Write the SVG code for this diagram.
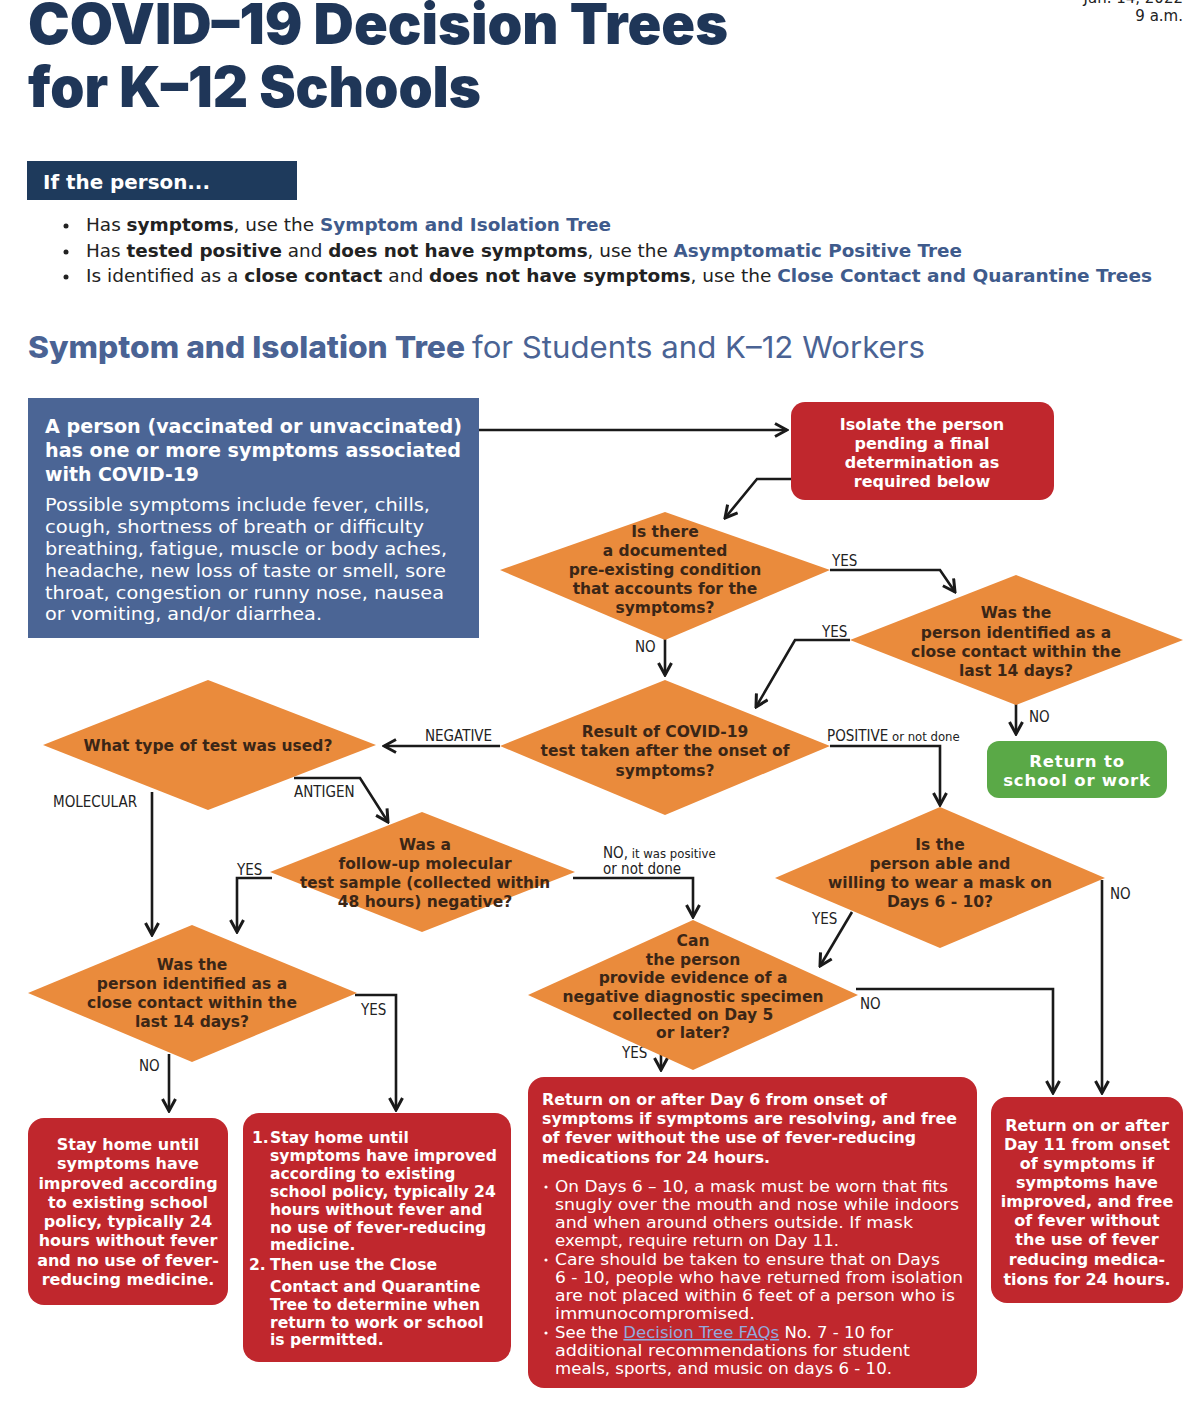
<svg xmlns="http://www.w3.org/2000/svg" width="1200" height="1403" viewBox="0 0 1200 1403">
<defs>
<style>
.title{font-family:Inter,"Open Sans","Liberation Sans",sans-serif;font-weight:900;fill:#1f3658;font-size:56px}
.date{font-family:"DejaVu Sans","Liberation Sans",sans-serif;font-size:15px;fill:#222}
.hdr{font-family:"DejaVu Sans","Liberation Sans",sans-serif;font-weight:700;font-size:19px;fill:#fff}
.bul{font-family:"DejaVu Sans","Liberation Sans",sans-serif;font-size:17px;fill:#222}
.b{font-weight:700}
.lk{font-weight:700;fill:#3f5b8c}
.sub{font-family:Inter,"Open Sans","Liberation Sans",sans-serif;font-size:30px;fill:#4a6394}
.wb{font-family:"DejaVu Sans","Liberation Sans",sans-serif;font-weight:700;fill:#fff}
.wr{font-family:"DejaVu Sans","Liberation Sans",sans-serif;font-weight:400;fill:#fff}
.dt{font-family:"DejaVu Sans","Liberation Sans",sans-serif;font-weight:700;font-size:15.5px;fill:#3b2616;text-anchor:middle}
.lbl{font-family:"Liberation Sans Narrow","DejaVu Sans Condensed","Liberation Sans",sans-serif;font-size:15px;fill:#222}
.dia{fill:#ea8b3c}
.red{fill:#c0272d}
.con{fill:none;stroke:#1a1a1a;stroke-width:2.6;marker-end:url(#ah)}
</style>
<marker id="ah" viewBox="0 0 16 16" refX="14" refY="8" markerWidth="16" markerHeight="16" markerUnits="userSpaceOnUse" orient="auto">
<path d="M2,1.5 L14,8 L2,14.5" fill="none" stroke="#1a1a1a" stroke-width="3"/>
</marker>
</defs>
<rect width="1200" height="1403" fill="#fff"/>

<g id="header">
<text class="title" x="28" y="44" textLength="700" lengthAdjust="spacingAndGlyphs">COVID–19 Decision Trees</text>
<text class="title" x="28" y="107" textLength="453" lengthAdjust="spacingAndGlyphs">for K–12 Schools</text>
<text class="date" x="1183" y="3" text-anchor="end">Jan. 14, 2022</text>
<text class="date" x="1183" y="21" text-anchor="end">9 a.m.</text>
<rect x="27" y="161" width="270" height="39" fill="#1e3a5c"/>
<text class="hdr" x="43" y="189" textLength="167" lengthAdjust="spacingAndGlyphs">If the person...</text>
<circle cx="66" cy="226" r="2.5" fill="#222"/>
<circle cx="66" cy="252" r="2.5" fill="#222"/>
<circle cx="66" cy="277" r="2.5" fill="#222"/>
<text class="bul" x="86" y="231" textLength="525" lengthAdjust="spacingAndGlyphs">Has <tspan class="b">symptoms</tspan>, use the <tspan class="lk">Symptom and Isolation Tree</tspan></text>
<text class="bul" x="86" y="257" textLength="876" lengthAdjust="spacingAndGlyphs">Has <tspan class="b">tested positive</tspan> and <tspan class="b">does not have symptoms</tspan>, use the <tspan class="lk">Asymptomatic Positive Tree</tspan></text>
<text class="bul" x="86" y="282" textLength="1066" lengthAdjust="spacingAndGlyphs">Is identified as a <tspan class="b">close contact</tspan> and <tspan class="b">does not have symptoms</tspan>, use the <tspan class="lk">Close Contact and Quarantine Trees</tspan></text>
<text class="sub" x="28" y="358" font-weight="800" textLength="437" lengthAdjust="spacingAndGlyphs">Symptom and Isolation Tree</text>
<text class="sub" x="472" y="358" font-weight="400" textLength="453" lengthAdjust="spacingAndGlyphs">for Students and K–12 Workers</text>
</g>

<g id="connectors">
<path class="con" d="M479,430 H787"/>
<path class="con" d="M791,479 H757 L725,518"/>
<path class="con" d="M830,570 H940 L955,592"/>
<path class="con" d="M665,638 V675"/>
<path class="con" d="M850,640 H795 L756,707"/>
<path class="con" d="M1016,703 V734"/>
<path class="con" d="M500,746 H384"/>
<path class="con" d="M830,746 H940 V805"/>
<path class="con" d="M152,792 V935"/>
<path class="con" d="M294,778 H360 L388,822"/>
<path class="con" d="M272,878 H237 V932"/>
<path class="con" d="M573,878 H693 V917"/>
<path class="con" d="M355,995 H396 V1110"/>
<path class="con" d="M169,1054 V1111"/>
<path class="con" d="M852,912 L820,966"/>
<path class="con" d="M1102,880 V1093"/>
<path class="con" d="M856,989 H1053 V1093"/>
<path class="con" d="M661,1044 V1070"/>
<text class="lbl" x="832" y="566">YES</text>
<text class="lbl" x="635" y="652">NO</text>
<text class="lbl" x="822" y="637">YES</text>
<text class="lbl" x="1029" y="722">NO</text>
<text class="lbl" x="425" y="741">NEGATIVE</text>
<text class="lbl" x="827" y="741">POSITIVE<tspan font-size="13"> or not done</tspan></text>
<text class="lbl" x="53" y="807">MOLECULAR</text>
<text class="lbl" x="294" y="797">ANTIGEN</text>
<text class="lbl" x="237" y="875">YES</text>
<text class="lbl" x="603" y="858">NO,<tspan font-size="13"> it was positive</tspan></text>
<text class="lbl" x="603" y="874" font-size="13">or not done</text>
<text class="lbl" x="361" y="1015">YES</text>
<text class="lbl" x="139" y="1071">NO</text>
<text class="lbl" x="812" y="924">YES</text>
<text class="lbl" x="1110" y="899">NO</text>
<text class="lbl" x="860" y="1009">NO</text>
<text class="lbl" x="622" y="1058">YES</text>
</g>

<g id="start">
<rect x="28" y="398" width="451" height="240" fill="#4b6595"/>
<g class="wb" font-size="19">
<text x="45" y="433" textLength="417" lengthAdjust="spacingAndGlyphs">A person (vaccinated or unvaccinated)</text>
<text x="45" y="457" textLength="416" lengthAdjust="spacingAndGlyphs">has one or more symptoms associated</text>
<text x="45" y="481" textLength="154" lengthAdjust="spacingAndGlyphs">with COVID-19</text>
</g>
<g class="wr" font-size="18">
<text x="45" y="511" textLength="385" lengthAdjust="spacingAndGlyphs">Possible symptoms include fever, chills,</text>
<text x="45" y="533" textLength="379" lengthAdjust="spacingAndGlyphs">cough, shortness of breath or difficulty</text>
<text x="45" y="555" textLength="402" lengthAdjust="spacingAndGlyphs">breathing, fatigue, muscle or body aches,</text>
<text x="45" y="577" textLength="401" lengthAdjust="spacingAndGlyphs">headache, new loss of taste or smell, sore</text>
<text x="45" y="599" textLength="399" lengthAdjust="spacingAndGlyphs">throat, congestion or runny nose, nausea</text>
<text x="45" y="620" textLength="277" lengthAdjust="spacingAndGlyphs">or vomiting, and/or diarrhea.</text>
</g>
</g>

<g id="isolate">
<rect class="red" x="791" y="402" width="263" height="98" rx="14"/>
<g class="wb" font-size="16" text-anchor="middle">
<text x="922" y="430">Isolate the person</text>
<text x="922" y="449">pending a final</text>
<text x="922" y="468">determination as</text>
<text x="922" y="487">required below</text>
</g>
</g>

<g id="q-preexisting">
<polygon class="dia" points="665,512 830,570 665,640 500,570"/>
<text class="dt" x="665" y="537">Is there</text>
<text class="dt" x="665" y="556">a documented</text>
<text class="dt" x="665" y="575">pre-existing condition</text>
<text class="dt" x="665" y="594">that accounts for the</text>
<text class="dt" x="665" y="613">symptoms?</text>
</g>

<g id="q-closecontact1">
<polygon class="dia" points="1016,575 1183,640 1016,705 850,640"/>
<text class="dt" x="1016" y="618">Was the</text>
<text class="dt" x="1016" y="638">person identified as a</text>
<text class="dt" x="1016" y="657">close contact within the</text>
<text class="dt" x="1016" y="676">last 14 days?</text>
</g>

<g id="return-green">
<rect x="987" y="741" width="180" height="57" rx="12" fill="#5aa947"/>
<g class="wb" font-size="16.5" text-anchor="middle" letter-spacing="0.8">
<text x="1077" y="767">Return to</text>
<text x="1077" y="786">school or work</text>
</g>
</g>

<g id="q-result">
<polygon class="dia" points="665,680 830,746 665,815 500,746"/>
<text class="dt" x="665" y="737">Result of COVID-19</text>
<text class="dt" x="665" y="756">test taken after the onset of</text>
<text class="dt" x="665" y="776">symptoms?</text>
</g>

<g id="q-testtype">
<polygon class="dia" points="208,680 376,745 208,810 43,745"/>
<text class="dt" x="208" y="751">What type of test was used?</text>
</g>

<g id="q-followup">
<polygon class="dia" points="422,812 575,872 422,932 270,872"/>
<text class="dt" x="425" y="850">Was a</text>
<text class="dt" x="425" y="869">follow-up molecular</text>
<text class="dt" x="425" y="888" textLength="250" lengthAdjust="spacingAndGlyphs">test sample (collected within</text>
<text class="dt" x="425" y="907">48 hours) negative?</text>
</g>

<g id="q-closecontact2">
<polygon class="dia" points="192,925 357,993 192,1062 28,993"/>
<text class="dt" x="192" y="970">Was the</text>
<text class="dt" x="192" y="989">person identified as a</text>
<text class="dt" x="192" y="1008">close contact within the</text>
<text class="dt" x="192" y="1027">last 14 days?</text>
</g>

<g id="q-mask">
<polygon class="dia" points="940,807 1105,878 940,948 775,878"/>
<text class="dt" x="940" y="850">Is the</text>
<text class="dt" x="940" y="869">person able and</text>
<text class="dt" x="940" y="888">willing to wear a mask on</text>
<text class="dt" x="940" y="907">Days 6 - 10?</text>
</g>

<g id="q-specimen">
<polygon class="dia" points="693,920 858,995 693,1070 528,995"/>
<text class="dt" x="693" y="946">Can</text>
<text class="dt" x="693" y="965">the person</text>
<text class="dt" x="693" y="983">provide evidence of a</text>
<text class="dt" x="693" y="1002">negative diagnostic specimen</text>
<text class="dt" x="693" y="1020">collected on Day 5</text>
<text class="dt" x="693" y="1038">or later?</text>
</g>

<g id="out-stayhome">
<rect class="red" x="28" y="1118" width="200" height="187" rx="16"/>
<g class="wb" font-size="16" text-anchor="middle">
<text x="128" y="1150">Stay home until</text>
<text x="128" y="1169">symptoms have</text>
<text x="128" y="1189">improved according</text>
<text x="128" y="1208">to existing school</text>
<text x="128" y="1227">policy, typically 24</text>
<text x="128" y="1246">hours without fever</text>
<text x="128" y="1266">and no use of fever-</text>
<text x="128" y="1285">reducing medicine.</text>
</g>
</g>

<g id="out-stayhome-quarantine">
<rect class="red" x="243" y="1113" width="268" height="249" rx="16"/>
<g class="wb" font-size="15.6">
<text x="252" y="1143">1.</text>
<text x="270" y="1143">Stay home until</text>
<text x="270" y="1161">symptoms have improved</text>
<text x="270" y="1179">according to existing</text>
<text x="270" y="1197">school policy, typically 24</text>
<text x="270" y="1215">hours without fever and</text>
<text x="270" y="1233">no use of fever-reducing</text>
<text x="270" y="1250">medicine.</text>
<text x="249" y="1270">2.</text>
<text x="270" y="1270">Then use the Close</text>
<text x="270" y="1292">Contact and Quarantine</text>
<text x="270" y="1310">Tree to determine when</text>
<text x="270" y="1328">return to work or school</text>
<text x="270" y="1345">is permitted.</text>
</g>
</g>

<g id="out-day6">
<rect class="red" x="528" y="1077" width="449" height="311" rx="16"/>
<g class="wb" font-size="15.5">
<text x="542" y="1105" textLength="345" lengthAdjust="spacingAndGlyphs">Return on or after Day 6 from onset of</text>
<text x="542" y="1124" textLength="415" lengthAdjust="spacingAndGlyphs">symptoms if symptoms are resolving, and free</text>
<text x="542" y="1143" textLength="374" lengthAdjust="spacingAndGlyphs">of fever without the use of fever-reducing</text>
<text x="542" y="1163" textLength="228" lengthAdjust="spacingAndGlyphs">medications for 24 hours.</text>
</g>
<g class="wr" font-size="15.5">
<circle cx="546" cy="1187" r="1.6" fill="#fff"/>
<circle cx="546" cy="1260" r="1.6" fill="#fff"/>
<circle cx="546" cy="1333" r="1.6" fill="#fff"/>
<text x="555" y="1192" textLength="393" lengthAdjust="spacingAndGlyphs">On Days 6 – 10, a mask must be worn that fits</text>
<text x="555" y="1210" textLength="404" lengthAdjust="spacingAndGlyphs">snugly over the mouth and nose while indoors</text>
<text x="555" y="1228" textLength="358" lengthAdjust="spacingAndGlyphs">and when around others outside. If mask</text>
<text x="555" y="1246" textLength="284" lengthAdjust="spacingAndGlyphs">exempt, require return on Day 11.</text>
<text x="555" y="1265" textLength="385" lengthAdjust="spacingAndGlyphs">Care should be taken to ensure that on Days</text>
<text x="555" y="1283" textLength="408" lengthAdjust="spacingAndGlyphs">6 - 10, people who have returned from isolation</text>
<text x="555" y="1301" textLength="400" lengthAdjust="spacingAndGlyphs">are not placed within 6 feet of a person who is</text>
<text x="555" y="1319" textLength="200" lengthAdjust="spacingAndGlyphs">immunocompromised.</text>
<text x="555" y="1338" textLength="338" lengthAdjust="spacingAndGlyphs">See the <tspan fill="#93a9dc" text-decoration="underline">Decision Tree FAQs</tspan> No. 7 - 10 for</text>
<text x="555" y="1356" textLength="355" lengthAdjust="spacingAndGlyphs">additional recommendations for student</text>
<text x="555" y="1374" textLength="337" lengthAdjust="spacingAndGlyphs">meals, sports, and music on days 6 - 10.</text>
</g>
</g>

<g id="out-day11">
<rect class="red" x="991" y="1097" width="192" height="206" rx="16"/>
<g class="wb" font-size="16" text-anchor="middle">
<text x="1087" y="1131">Return on or after</text>
<text x="1087" y="1150">Day 11 from onset</text>
<text x="1087" y="1169">of symptoms if</text>
<text x="1087" y="1188">symptoms have</text>
<text x="1087" y="1207">improved, and free</text>
<text x="1087" y="1226">of fever without</text>
<text x="1087" y="1245">the use of fever</text>
<text x="1087" y="1265">reducing medica-</text>
<text x="1087" y="1285">tions for 24 hours.</text>
</g>
</g>
</svg>
